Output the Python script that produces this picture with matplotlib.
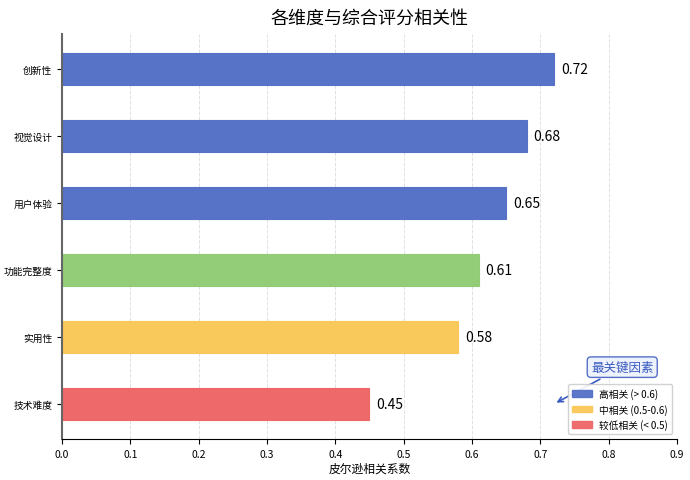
import matplotlib
matplotlib.use('Agg')
import matplotlib.pyplot as plt
from matplotlib.patches import Patch

plt.rcParams['font.family'] = ['Noto Sans CJK SC', 'DejaVu Sans']
plt.rcParams['axes.unicode_minus'] = False

# data, bottom to top
dims = ['技术难度', '实用性', '功能完整度', '用户体验', '视觉设计', '创新性']
corr = [0.45, 0.58, 0.61, 0.65, 0.68, 0.72]
bar_colors = ['#ee6666', '#fac858', '#91cc75', '#5470c6', '#5470c6', '#5470c6']
legend_labels = ['高相关 (> 0.6)', '中相关 (0.5-0.6)', '较低相关 (< 0.5)']
legend_colors = ['#5470c6', '#fac858', '#ee6666']

fig = plt.figure(figsize=(6.9, 4.81), dpi=100)
ax = fig.add_axes([0.09, 0.085, 0.891, 0.842])

y = range(len(dims))
ax.barh(y, corr, height=0.48, color=bar_colors, alpha=0.98, edgecolor=bar_colors, linewidth=0.8)
for i, v in enumerate(corr):
    ax.text(v + 0.01, i, f'{v:.2f}', va='center', ha='left', fontsize=10)

ax.set_yticks(list(y))
ax.set_yticklabels(dims, fontsize=7)
ax.set_ylim(-0.525, 5.525)
ax.set_xlim(0, 0.9)
ax.set_xticks([0.0, 0.1, 0.2, 0.3, 0.4, 0.5, 0.6, 0.7, 0.8, 0.9])
ax.tick_params(axis='x', labelsize=7.5)
ax.set_xlabel('皮尔逊相关系数', fontsize=8.5, labelpad=2)
ax.set_title('各维度与综合评分相关性', fontsize=13, pad=8)

ax.grid(axis='x', linestyle='--', color='#cccccc', alpha=0.6, linewidth=0.7)
ax.set_axisbelow(True)
ax.spines['top'].set_visible(False)
ax.spines['right'].set_visible(False)
ax.spines['left'].set_color('#666666')
ax.spines['left'].set_linewidth(1.5)

ax.annotate('最关键因素', xy=(0.72, 0), xytext=(0.82, 0.55),
            fontsize=9, color='#3a5bc0', ha='center', va='center',
            bbox=dict(boxstyle='round,pad=0.3', fc='#eef2fc', ec='#5470c6', lw=1),
            arrowprops=dict(arrowstyle='->', color='#3a5bc0', lw=1.2))

handles = [Patch(facecolor=c, edgecolor=c, alpha=0.95) for c in legend_colors]
ax.legend(handles, legend_labels, loc='lower right', fontsize=7, framealpha=0.9)

fig.savefig('out.png', dpi=100)
